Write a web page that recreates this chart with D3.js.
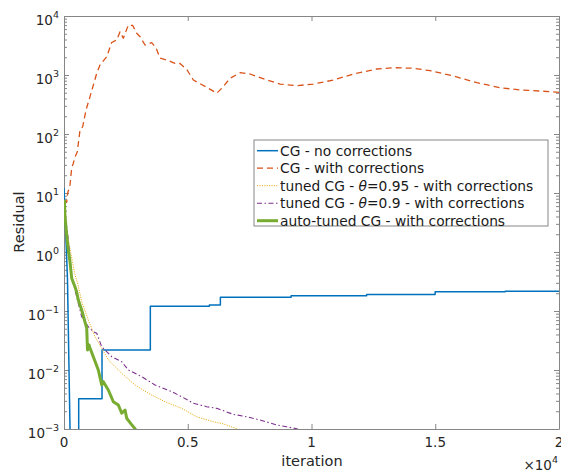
<!DOCTYPE html>
<html>
<head>
<meta charset="utf-8">
<script src="https://cdn.jsdelivr.net/npm/d3@7"></script>
<style>
  body { margin: 0; background: #fff; }
  svg { font-family: "DejaVu Sans", sans-serif; }
</style>
</head>
<body>
<svg id="chart" width="561" height="475"></svg>
<script>
/** Series: [iteration, residual] */
var cgNoCorr = [[0,12],[140,0.36],[243,1e-3],[260,1e-5],[594,1e-5],[594,3.27e-3],[1536,3.27e-3],
  [1536,0.0218],[3488,0.0218],[3488,0.12],[5873,0.12],[5873,0.126],[6318,0.126],[6318,0.171],
  [9176,0.171],[9176,0.182],[12227,0.182],[12227,0.19],[14996,0.19],[14996,0.212],
  [17826,0.212],[17826,0.216],[20000,0.216]];

var cgCorr = [[0,7.6],[109,7.0],[150,10],[243,13.7],[311,26.5],[376,32],[445,40.7],[538,50],
  [647,117],[756,133],[889,255],[1051,429],[1322,1070],[1455,1479],[1726,2040],[1928,3556],
  [2130,3920],[2264,5420],[2397,4190],[2599,7040],[2777,6900],[2938,5090],[3072,4460],
  [3274,3220],[3545,3530],[3719,2870],[3880,1940],[4151,1795],[4487,1578],[4689,1566],
  [4972,1216],[5226,822],[5768,620],[6172,490],[6386,602],[6710,879],[7114,1094],[7519,1040],
  [8194,822],[8731,703],[9406,659],[10077,703],[10885,822],[11694,1040],[12640,1265],
  [13310,1331],[14119,1300],[14794,1183],[15736,962],[16682,740],[17624,609],[18432,557],
  [19240,535],[20000,509]];

var tuned095 = [[0,7.6],[81,2.87],[174,1.6],[311,0.79],[445,0.41],[566,0.276],[715,0.144],
  [982,0.0703],[1253,0.0366],[1524,0.0233],[1791,0.0148],[1993,0.0122],[2332,0.0088],
  [2870,0.00557],[3407,0.00403],[4082,0.0029],[4757,0.00224],[5364,0.00161],[6035,0.00133],
  [6439,0.00122],[6981,0.00101],[7114,0.00094]];

var tuned09 = [[0,7.6],[81,3.22],[174,1.6],[243,0.79],[311,0.381],[445,0.227],[578,0.135],
  [715,0.08],[982,0.0542],[1184,0.0446],[1322,0.0419],[1524,0.0248],[1928,0.0168],
  [2332,0.0138],[2599,0.01],[3141,0.0077],[3678,0.00557],[4353,0.00429],[4757,0.00352],
  [5226,0.00273],[5768,0.00239],[6172,0.00224],[6843,0.00177],[7385,0.00161],[7923,0.00142],
  [8598,0.00117],[9002,0.00109],[9406,0.00101],[9540,0.00094]];

var autoTuned = [[12,7.6],[40,4.07],[109,1.94],[174,1.08],[243,0.68],[311,0.36],[445,0.255],
  [513,0.21],[578,0.154],[715,0.104],[849,0.065],[918,0.0515],[950,0.0218],[1011,0.0265],
  [1051,0.0236],[1184,0.0168],[1386,0.01],[1524,0.00557],[1589,0.00634],[1791,0.00458],
  [1993,0.0029],[2195,0.00255],[2332,0.00185],[2466,0.0021],[2534,0.00152],[2708,0.00122],
  [2870,0.00101],[2951,0.0009]];

var xTicks = [0, 5000, 10000, 15000, 20000];
var xTickLabels = ["0", "0.5", "1", "1.5", "2"];
var yExponents = [-3, -2, -1, 0, 1, 2, 3, 4];

var series = [
  {name: "CG - no corrections", data: cgNoCorr, color: "#0072BD", width: 1.5, dash: null},
  {name: "CG - with corrections", data: cgCorr, color: "#D95319", width: 1.3, dash: "6,4"},
  {name: "tuned CG - θ=0.95 - with corrections", data: tuned095, color: "#EDB120", width: 1, dash: "1.2,1.2"},
  {name: "tuned CG - θ=0.9 - with corrections", data: tuned09, color: "#7E2F8E", width: 1.1, dash: "5,2.5,1.5,2.5"},
  {name: "auto-tuned CG - with corrections", data: autoTuned, color: "#77AC30", width: 3, dash: null}
];

/** plot box (window.top is reserved, so prefixed names) */
var boxL = 64, boxR = 559, boxT = 16, boxB = 429;
var axisColor = "#868686", textColor = "#262626";

var svg = d3.select("#chart");

var x = d3.scaleLinear().domain([0, 20000]).range([boxL, boxR]);
var y = d3.scaleLog().domain([1e-3, 1e4]).range([boxB, boxT]);

// major + minor tick values for the log axis
var yMajor = yExponents.map(function(e){ return Math.pow(10, e); });
var yMinor = [];
yExponents.slice(0, -1).forEach(function(e){
  for (var m = 2; m <= 9; m++) yMinor.push(m * Math.pow(10, e));
});

function styleAxis(g) {
  g.selectAll("path, line").attr("stroke", axisColor);
  g.selectAll("text").remove();
}

// bottom + top x axes, ticks pointing inside
svg.append("g").attr("transform", "translate(0," + boxB + ")")
  .call(d3.axisBottom(x).tickValues(xTicks).tickSize(-5).tickSizeOuter(0)).call(styleAxis);
svg.append("g").attr("transform", "translate(0," + boxT + ")")
  .call(d3.axisTop(x).tickValues(xTicks).tickSize(-5).tickSizeOuter(0)).call(styleAxis);

// left + right y axes
[[boxL, d3.axisLeft], [boxR, d3.axisRight]].forEach(function(a){
  svg.append("g").attr("transform", "translate(" + a[0] + ",0)")
    .call(a[1](y).tickValues(yMajor).tickSize(-5).tickSizeOuter(0)).call(styleAxis);
  svg.append("g").attr("transform", "translate(" + a[0] + ",0)")
    .call(a[1](y).tickValues(yMinor).tickSize(-3).tickSizeOuter(0)).call(styleAxis)
    .select(".domain").remove();
});

// x tick labels
svg.append("g").selectAll("text").data(xTicks).enter().append("text")
  .attr("x", function(d){ return x(d); })
  .attr("y", 447)
  .attr("text-anchor", "middle")
  .attr("font-size", 13.5)
  .attr("fill", textColor)
  .text(function(d, i){ return xTickLabels[i]; });

// y tick labels, 10^e
var yl = svg.append("g").selectAll("text").data(yExponents).enter().append("text")
  .attr("x", 59)
  .attr("y", function(d){ return y(Math.pow(10, d)) + 9; })
  .attr("text-anchor", "end")
  .attr("font-size", 13.5)
  .attr("fill", textColor);
yl.append("tspan").text("10");
yl.append("tspan").attr("dy", -7).attr("font-size", 9.5)
  .text(function(d){ return d < 0 ? "−" + (-d) : String(d); });

// axis titles
svg.append("text")
  .attr("transform", "translate(24,222) rotate(-90)")
  .attr("text-anchor", "middle").attr("font-size", 14.5).attr("fill", textColor)
  .text("Residual");
svg.append("text")
  .attr("x", 312).attr("y", 466)
  .attr("text-anchor", "middle").attr("font-size", 14.5).attr("fill", textColor)
  .text("iteration");
var mult = svg.append("text")
  .attr("x", 558).attr("y", 470)
  .attr("text-anchor", "end").attr("font-size", 13.5).attr("fill", textColor);
mult.append("tspan").text("×10");
mult.append("tspan").attr("dy", -7).attr("font-size", 9.5).text("4");

// lines, clipped to the plot box
svg.append("clipPath").attr("id", "plotClip").append("rect")
  .attr("x", boxL).attr("y", boxT).attr("width", boxR - boxL).attr("height", boxB - boxT);

var line = d3.line()
  .x(function(d){ return x(d[0]); })
  .y(function(d){ return y(Math.max(d[1], 1e-6)); });

var plot = svg.append("g").attr("clip-path", "url(#plotClip)");
series.forEach(function(s){
  plot.append("path")
    .datum(s.data)
    .attr("d", line)
    .attr("fill", "none")
    .attr("stroke", s.color)
    .attr("stroke-width", s.width)
    .attr("stroke-dasharray", s.dash)
    .attr("stroke-linejoin", "round");
});

// legend
var legend = svg.append("g");
legend.append("rect")
  .attr("x", 254).attr("y", 140).attr("width", 294).attr("height", 86)
  .attr("fill", "#fff").attr("stroke", axisColor).attr("stroke-width", 1);

var rows = legend.selectAll("g.row").data(series).enter().append("g")
  .attr("class", "row")
  .attr("transform", function(d, i){ return "translate(0," + (150.7 + i * 17.5) + ")"; });
rows.append("line")
  .attr("x1", 257).attr("x2", 278).attr("y1", 0).attr("y2", 0)
  .attr("stroke", function(d){ return d.color; })
  .attr("stroke-width", function(d){ return d.width; })
  .attr("stroke-dasharray", function(d){ return d.dash; });
var lt = rows.append("text")
  .attr("x", 280).attr("y", 5)
  .attr("font-size", 13.8)
  .attr("fill", "#1a1a1a");
lt.each(function(d){
  var t = d3.select(this);
  var parts = d.name.split("θ");
  t.append("tspan").text(parts[0]);
  if (parts.length > 1) {
    t.append("tspan").attr("font-style", "italic").text("θ");
    t.append("tspan").text(parts[1]);
  }
});
</script>
</body>
</html>
